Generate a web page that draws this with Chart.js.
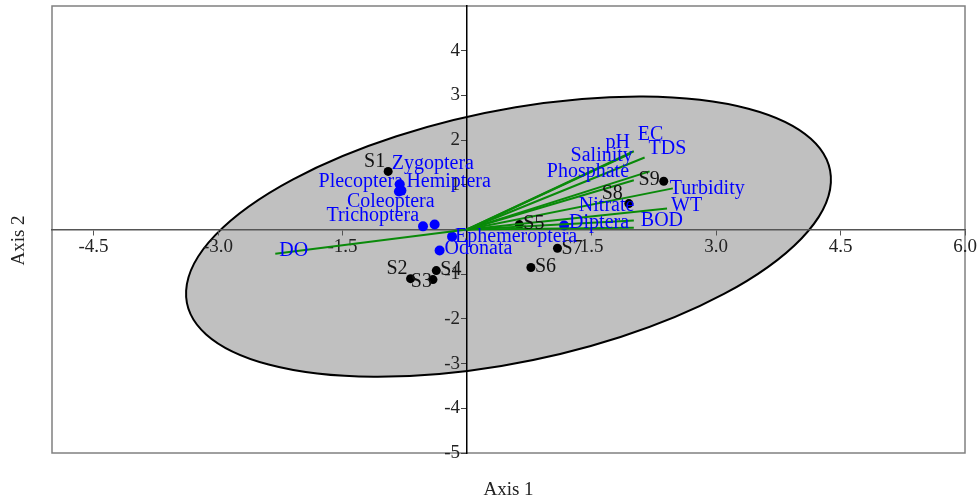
<!DOCTYPE html>
<html>
<head>
<meta charset="utf-8">
<script src="https://cdn.jsdelivr.net/npm/chart.js@4.4.1/dist/chart.umd.min.js"></script>
<style>
  html, body { margin: 0; padding: 0; background: #fff; }
  #wrap { width: 979px; height: 502px; }
</style>
</head>
<body>
<div id="wrap"><canvas id="biplot" width="979" height="502"></canvas></div>
<script>
// sites (black points)
const siteNames = ['S1', 'S2', 'S3', 'S4', 'S5', 'S6', 'S7', 'S8', 'S9'];
const siteX = [-0.95, -0.68, -0.41, -0.37, 0.63, 0.77, 1.09, 1.95, 2.37];
const siteY = [1.30, -1.10, -1.12, -0.92, 0.11, -0.85, -0.42, 0.58, 1.08];

// taxa (blue points)
const taxaNames = ['Zygoptera', 'Plecoptera', 'Hemiptera', 'Coleoptera', 'Trichoptera', 'Ephemeroptera', 'Odonata', 'Diptera'];
const taxaX = [-0.81, -0.82, -0.79, -0.39, -0.53, -0.18, -0.33, 1.17];
const taxaY = [1.01, 0.85, 0.87, 0.11, 0.07, -0.16, -0.47, 0.09];

// environmental vectors (green lines from origin)
const varNames = ['pH', 'EC', 'TDS', 'Salinity', 'Phosphate', 'Turbidity', 'Nitrate', 'WT', 'BOD', 'DO'];
const varX = [1.97, 2.01, 2.14, 2.20, 2.01, 2.48, 2.01, 2.41, 2.01, -2.31];
const varY = [1.70, 1.75, 1.61, 1.30, 1.10, 0.92, 0.20, 0.47, 0.04, -0.54];

// confidence ellipse, data units
const ellipseCenter = [0.50, -0.16];
const ellipseAxes = [4.25, 2.62];
const ellipseAngleDeg = 31;

const xTicks = [-4.5, -3.0, -1.5, 1.5, 3.0, 4.5, 6.0];
const yTicks = [-5, -4, -3, -2, -1, 1, 2, 3, 4];

// label placement: [align, dx, dy] in pixels from the point
const labelPos = {
  S1: ['right', -3, -10], S2: ['right', -3, -10], S3: ['right', -1, 2],
  S4: ['left', 4, -1], S5: ['left', 4, -1], S6: ['left', 4, -1],
  S7: ['left', 4, 0], S8: ['right', -6, -10], S9: ['right', -4, -1],
  Zygoptera: ['left', -8, -21], Plecoptera: ['right', 4, -10], Hemiptera: ['left', 5, -9],
  Coleoptera: ['right', 0, -23], Trichoptera: ['right', -4, -11], Ephemeroptera: ['left', 3, 0],
  Odonata: ['left', 5, -2], Diptera: ['left', 5, -3],
  pH: ['left', -25, -11], EC: ['left', 4, -17], TDS: ['left', 4, -9],
  Salinity: ['left', -79, -16], Phosphate: ['left', -87, -9], Turbidity: ['left', -3, 0],
  Nitrate: ['left', -55, -15], WT: ['left', 4, -3], BOD: ['left', 7, -7], DO: ['left', 4, -3]
};

const serif = '"Liberation Serif", "Times New Roman", serif';
const green = '#0a8a0a';
const blue = '#0000ff';

const datasets = [];
varNames.forEach((n, i) => {
  datasets.push({
    type: 'line',
    label: n,
    data: [{ x: 0, y: 0 }, { x: varX[i], y: varY[i] }],
    borderColor: green,
    borderWidth: 2,
    pointRadius: 0,
    fill: false
  });
});
datasets.push({
  label: 'sites',
  data: siteX.map((x, i) => ({ x: x, y: siteY[i], name: siteNames[i] })),
  backgroundColor: '#000',
  borderWidth: 0,
  pointRadius: 4.5
});
datasets.push({
  label: 'taxa',
  data: taxaX.map((x, i) => ({ x: x, y: taxaY[i], name: taxaNames[i] })),
  backgroundColor: blue,
  borderWidth: 0,
  pointRadius: 5
});

const ellipsePlugin = {
  id: 'ellipse',
  beforeDraw(chart) {
    const { ctx, chartArea } = chart;
    const xs = chart.scales.x, ys = chart.scales.y;
    const kx = xs.getPixelForValue(1) - xs.getPixelForValue(0);
    const ky = ys.getPixelForValue(0) - ys.getPixelForValue(1);
    ctx.save();
    ctx.beginPath();
    ctx.translate(xs.getPixelForValue(ellipseCenter[0]), ys.getPixelForValue(ellipseCenter[1]));
    ctx.scale(kx, -ky);
    ctx.rotate(ellipseAngleDeg * Math.PI / 180);
    ctx.ellipse(0, 0, ellipseAxes[0], ellipseAxes[1], 0, 0, 2 * Math.PI);
    ctx.restore();
    ctx.save();
    ctx.fillStyle = '#c0c0c0';
    ctx.fill();
    ctx.lineWidth = 2;
    ctx.strokeStyle = '#000';
    ctx.stroke();
    // frame
    ctx.strokeStyle = '#808080';
    ctx.lineWidth = 1.5;
    ctx.strokeRect(chartArea.left, chartArea.top, chartArea.right - chartArea.left, chartArea.bottom - chartArea.top);
    ctx.restore();
  },
  afterDatasetsDraw(chart) {
    const { ctx, chartArea } = chart;
    const xs = chart.scales.x, ys = chart.scales.y;
    ctx.save();

    // y tick labels, left of the vertical axis
    ctx.font = '19px ' + serif;
    ctx.fillStyle = '#222';
    ctx.textAlign = 'right';
    ctx.textBaseline = 'middle';
    const axisX = xs.getPixelForValue(0);
    yTicks.forEach(v => ctx.fillText(String(v), axisX - 7, ys.getPixelForValue(v)));

    ctx.font = '20px ' + serif;
    function put(name, x, y, color) {
      const p = labelPos[name] || ['left', 4, 0];
      ctx.fillStyle = color;
      ctx.textAlign = p[0];
      ctx.fillText(name, xs.getPixelForValue(x) + p[1], ys.getPixelForValue(y) + p[2]);
    }
    siteNames.forEach((n, i) => put(n, siteX[i], siteY[i], '#111'));
    taxaNames.forEach((n, i) => put(n, taxaX[i], taxaY[i], blue));
    varNames.forEach((n, i) => put(n, varX[i], varY[i], blue));

    // axis titles
    ctx.fillStyle = '#222';
    ctx.font = '19px ' + serif;
    ctx.textAlign = 'center';
    ctx.fillText('Axis 1', (chartArea.left + chartArea.right) / 2, 490);
    ctx.translate(19, (chartArea.top + chartArea.bottom) / 2 + 11);
    ctx.rotate(-Math.PI / 2);
    ctx.fillText('Axis 2', 0, 0);
    ctx.restore();
  }
};

const tickFont = { family: serif, size: 19 };

new Chart(document.getElementById('biplot').getContext('2d'), {
  type: 'scatter',
  data: { datasets: datasets },
  options: {
    responsive: false,
    animation: false,
    layout: { padding: { left: 52, right: 14, top: 6, bottom: 49 } },
    plugins: { legend: { display: false }, tooltip: { enabled: false } },
    scales: {
      x: {
        type: 'linear',
        min: -5,
        max: 6,
        position: { y: 0 },
        afterBuildTicks: s => { s.ticks = xTicks.map(v => ({ value: v })); },
        afterFit: s => { s.paddingLeft = 0; s.paddingRight = 0; },
        ticks: {
          callback: v => v.toFixed(1),
          font: tickFont,
          color: '#222',
          padding: 1,
          autoSkip: false,
          maxRotation: 0
        },
        grid: { drawOnChartArea: false, tickLength: 5, color: '#555' },
        border: { color: '#555', width: 1.5 }
      },
      y: {
        type: 'linear',
        min: -5,
        max: 5,
        position: { x: 0 },
        afterBuildTicks: s => { s.ticks = yTicks.map(v => ({ value: v })); },
        afterFit: s => { s.paddingTop = 0; s.paddingBottom = 0; },
        ticks: { display: false },
        grid: { drawOnChartArea: false, tickLength: 5, color: '#444' },
        border: { color: '#000', width: 1.5 }
      }
    }
  },
  plugins: [ellipsePlugin]
});
</script>
</body>
</html>
